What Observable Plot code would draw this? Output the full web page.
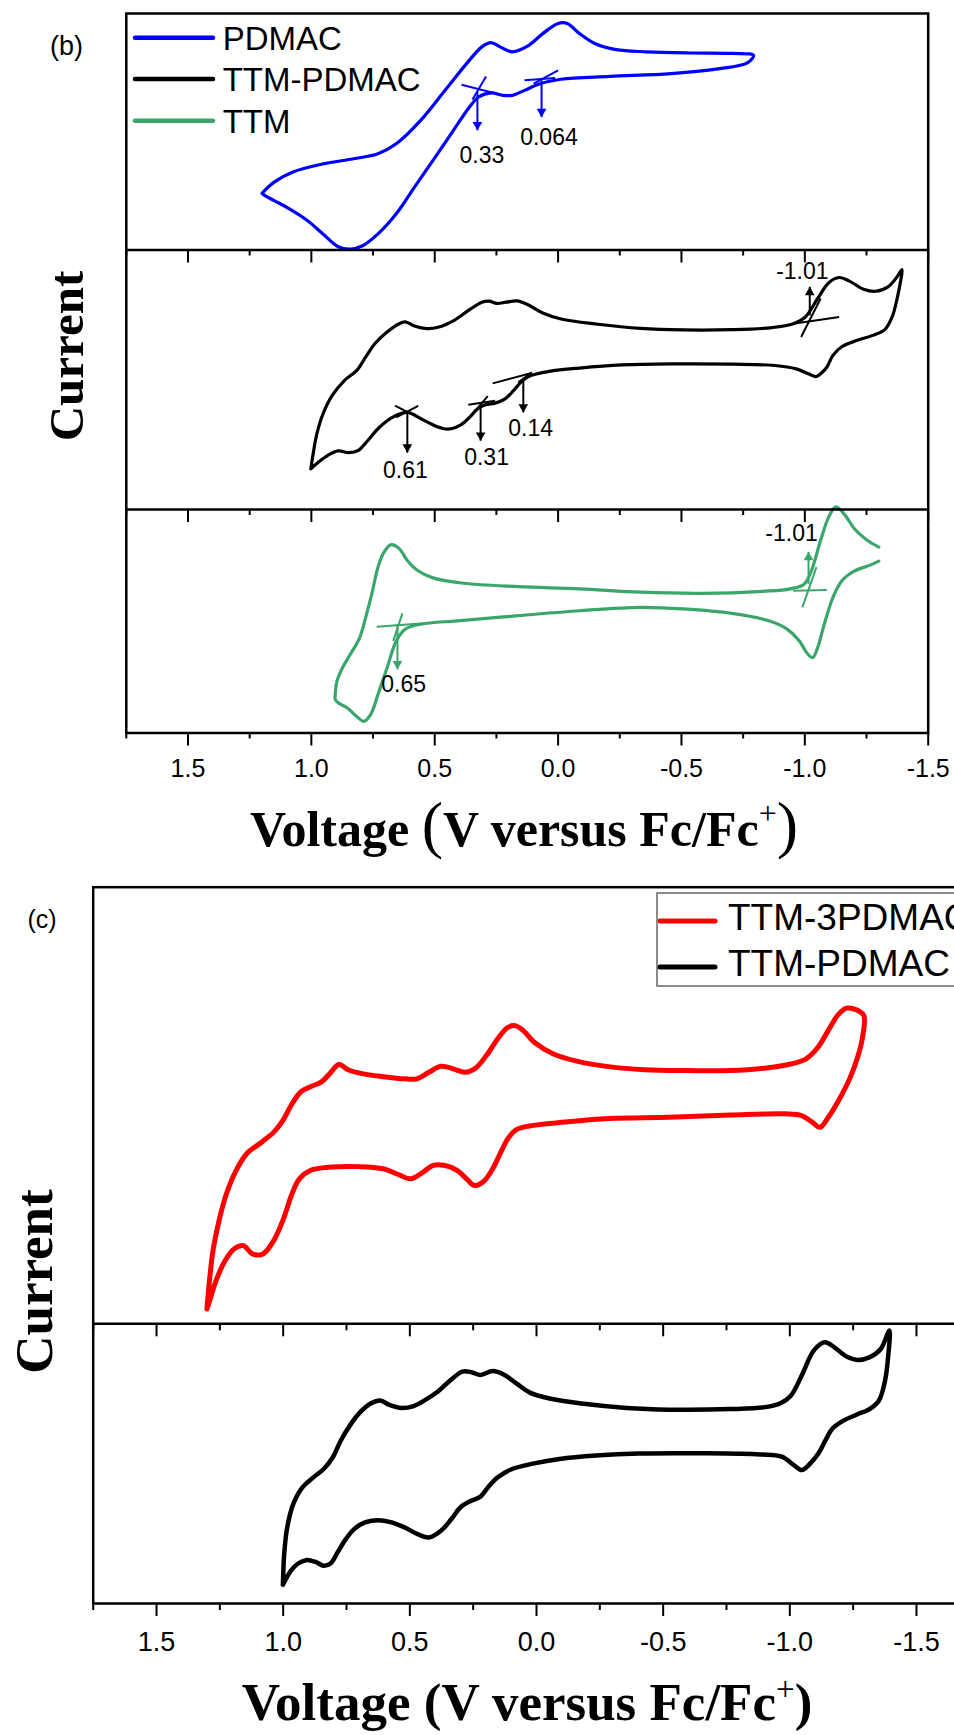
<!DOCTYPE html>
<html>
<head>
<meta charset="utf-8">
<script src="https://cdn.jsdelivr.net/npm/d3@7"></script>
<script src="https://cdn.jsdelivr.net/npm/@observablehq/plot@0.6"></script>
<style>
html, body { margin: 0; padding: 0; background: #fff; overflow: hidden; }
#root { position: relative; width: 954px; height: 1735px; overflow: hidden; background: #fff; }
.wrap { position: absolute; left: 0; }
</style>
</head>
<body>
<div id="root"></div>
<script>
// ---------- tick values ----------
const majorTicks = [1.5, 1.0, 0.5, 0.0, -0.5, -1.0, -1.5];
const minorTicks = [1.75, 1.25, 0.75, 0.25, -0.25, -0.75, -1.25];

// ---------- series names / colours ----------
const seriesB = ["PDMAC", "TTM-PDMAC", "TTM"];
const colorsB = ["#0000ff", "#000000", "#3aa66b"];
const seriesC = ["TTM-3PDMAC", "TTM-PDMAC"];
const colorsC = ["#ff0000", "#000000"];

// ---------- (b) PDMAC : [V vs Fc/Fc+, normalised current] ----------
const pdmacCV = [
[1.200,0.240],[1.151,0.287],[1.077,0.329],[0.953,0.364],[0.829,0.386],[0.730,0.407],[0.656,0.449],[0.557,0.548],
[0.458,0.675],[0.371,0.788],[0.309,0.859],[0.272,0.877],[0.235,0.859],[0.186,0.838],[0.124,0.862],[0.062,0.915],
[0.000,0.958],[-0.037,0.958],[-0.087,0.915],[-0.149,0.873],[-0.235,0.847],[-0.359,0.838],[-0.532,0.833],[-0.705,0.831],
[-0.792,0.823],[-0.767,0.791],[-0.656,0.767],[-0.458,0.746],[-0.210,0.734],[-0.012,0.722],[0.074,0.703],[0.136,0.675],
[0.186,0.654],[0.223,0.654],[0.272,0.664],[0.322,0.647],[0.359,0.605],[0.433,0.492],[0.507,0.379],[0.582,0.266],
[0.656,0.153],[0.730,0.068],[0.792,0.018],[0.842,0.004],[0.891,0.014],[0.953,0.068],[1.015,0.124],[1.089,0.174],
[1.151,0.209],[1.188,0.230],[1.200,0.240]];
const pdmacTangents = [[[0.391,0.699],[0.260,0.664]],[[0.347,0.636],[0.292,0.734]],[[0.136,0.718],[0.012,0.727]],[[0.099,0.703],[0.000,0.760]]];
const pdmacArrows = [[0.327,0.668,0.506],[0.067,0.718,0.562]];
const pdmacLabels = [[0.309,0.400,"0.33"],[0.037,0.477,"0.064"]];

// ---------- (b) TTM-PDMAC ----------
const ttmPdmacCV = [
[1.002,0.157],[0.993,0.213],[0.978,0.290],[0.953,0.368],[0.916,0.439],[0.866,0.497],[0.817,0.535],[0.780,0.587],
[0.743,0.639],[0.693,0.684],[0.644,0.716],[0.619,0.723],[0.582,0.707],[0.532,0.697],[0.483,0.703],[0.421,0.729],
[0.359,0.770],[0.309,0.799],[0.280,0.803],[0.248,0.794],[0.210,0.799],[0.166,0.804],[0.124,0.790],[0.062,0.757],
[-0.012,0.734],[-0.161,0.714],[-0.334,0.698],[-0.507,0.692],[-0.705,0.693],[-0.866,0.701],[-0.953,0.716],[-1.002,0.742],
[-1.052,0.813],[-1.097,0.874],[-1.139,0.894],[-1.181,0.880],[-1.238,0.849],[-1.287,0.841],[-1.337,0.858],[-1.374,0.897],
[-1.394,0.925],[-1.389,0.884],[-1.374,0.813],[-1.354,0.742],[-1.324,0.693],[-1.275,0.671],[-1.213,0.652],[-1.151,0.628],
[-1.114,0.594],[-1.089,0.548],[-1.064,0.523],[-1.045,0.512],[-1.015,0.523],[-0.965,0.542],[-0.879,0.555],[-0.705,0.560],
[-0.458,0.561],[-0.260,0.557],[-0.087,0.545],[0.037,0.532],[0.111,0.516],[0.144,0.497],[0.178,0.461],[0.215,0.426],
[0.255,0.410],[0.297,0.403],[0.327,0.387],[0.359,0.355],[0.396,0.325],[0.446,0.310],[0.495,0.321],[0.552,0.348],
[0.611,0.374],[0.668,0.357],[0.725,0.316],[0.772,0.265],[0.809,0.228],[0.849,0.219],[0.891,0.226],[0.933,0.209],
[0.973,0.181],[1.002,0.157]];
const ttmPdmacTangents = [
[[-0.985,0.665],[-1.064,0.813]],[[-0.953,0.716],[-1.139,0.742]],
[[0.265,0.486],[0.111,0.525]],[[0.161,0.490],[0.106,0.529]],
[[0.364,0.404],[0.255,0.419]],[[0.327,0.390],[0.285,0.437]],
[[0.661,0.400],[0.562,0.352]],[[0.656,0.355],[0.567,0.399]]];
const ttmPdmacArrows = [[-1.020,0.748,0.858],[0.141,0.497,0.374],[0.314,0.404,0.265],[0.611,0.377,0.219]];
const ttmPdmacLabels = [[-0.990,0.916,"-1.01"],[0.111,0.310,"0.14"],[0.290,0.200,"0.31"],[0.619,0.148,"0.61"]];

// ---------- (b) TTM ----------
const ttmCV = [
[-1.300,0.832],[-1.250,0.865],[-1.200,0.915],[-1.163,0.975],[-1.126,1.012],[-1.097,0.967],[-1.064,0.862],[-1.027,0.727],
[-0.998,0.667],[-0.941,0.645],[-0.829,0.634],[-0.582,0.625],[-0.334,0.630],[-0.087,0.645],[0.161,0.655],[0.384,0.670],
[0.507,0.694],[0.569,0.727],[0.611,0.772],[0.644,0.825],[0.676,0.843],[0.705,0.810],[0.730,0.742],[0.755,0.622],
[0.780,0.517],[0.804,0.427],[0.842,0.352],[0.874,0.292],[0.896,0.232],[0.903,0.175],[0.903,0.150],[0.891,0.135],
[0.854,0.112],[0.817,0.075],[0.787,0.052],[0.760,0.082],[0.730,0.172],[0.693,0.292],[0.656,0.412],[0.619,0.465],
[0.557,0.487],[0.408,0.502],[0.161,0.525],[-0.087,0.547],[-0.334,0.562],[-0.507,0.555],[-0.705,0.535],[-0.854,0.502],
[-0.928,0.465],[-0.978,0.412],[-1.007,0.360],[-1.032,0.337],[-1.052,0.382],[-1.077,0.480],[-1.114,0.607],[-1.151,0.682],
[-1.200,0.724],[-1.262,0.750],[-1.300,0.769]];
const ttmTangents = [[[-0.990,0.562],[-1.047,0.742]],[[-0.953,0.637],[-1.089,0.640]],[[0.735,0.475],[0.557,0.490]],[[0.668,0.412],[0.631,0.535]]];
const ttmArrows = [[-1.015,0.667,0.810],[0.651,0.487,0.285]];
const ttmLabels = [[-0.946,0.892,"-1.01"],[0.626,0.217,"0.65"]];

// ---------- (c) TTM-3PDMAC ----------
const ttm3PdmacCV = [
[1.301,0.034],[1.291,0.099],[1.277,0.168],[1.253,0.237],[1.224,0.298],[1.186,0.351],[1.145,0.389],[1.085,0.416],
[1.037,0.439],[1.001,0.466],[0.965,0.504],[0.929,0.532],[0.888,0.544],[0.849,0.554],[0.816,0.573],[0.780,0.594],
[0.744,0.582],[0.689,0.573],[0.605,0.566],[0.521,0.561],[0.473,0.561],[0.425,0.576],[0.377,0.590],[0.329,0.584],
[0.281,0.576],[0.240,0.586],[0.197,0.615],[0.153,0.653],[0.113,0.679],[0.084,0.683],[0.053,0.672],[0.005,0.643],
[-0.067,0.618],[-0.163,0.601],[-0.284,0.589],[-0.428,0.582],[-0.596,0.580],[-0.764,0.580],[-0.908,0.586],[-1.004,0.595],
[-1.064,0.607],[-1.112,0.634],[-1.152,0.672],[-1.191,0.708],[-1.224,0.723],[-1.263,0.719],[-1.292,0.706],[-1.287,0.656],
[-1.268,0.611],[-1.239,0.565],[-1.196,0.515],[-1.152,0.473],[-1.119,0.450],[-1.088,0.462],[-1.047,0.477],[-0.980,0.481],
[-0.764,0.478],[-0.524,0.473],[-0.284,0.470],[-0.115,0.462],[0.029,0.453],[0.081,0.444],[0.113,0.424],[0.144,0.389],
[0.177,0.351],[0.209,0.326],[0.245,0.317],[0.273,0.330],[0.312,0.351],[0.365,0.363],[0.408,0.363],[0.449,0.347],
[0.497,0.332],[0.545,0.342],[0.605,0.355],[0.701,0.360],[0.809,0.359],[0.893,0.351],[0.936,0.332],[0.965,0.298],
[1.001,0.237],[1.037,0.191],[1.080,0.160],[1.121,0.160],[1.157,0.179],[1.193,0.172],[1.229,0.145],[1.265,0.099],
[1.294,0.046],[1.301,0.034]];

// ---------- (c) TTM-PDMAC ----------
const ttmPdmacCV2 = [
[1.001,0.067],[0.996,0.177],[0.984,0.272],[0.960,0.356],[0.924,0.415],[0.881,0.451],[0.840,0.481],[0.804,0.523],
[0.773,0.582],[0.737,0.636],[0.696,0.684],[0.653,0.716],[0.617,0.726],[0.581,0.710],[0.533,0.699],[0.485,0.706],
[0.437,0.729],[0.389,0.758],[0.341,0.797],[0.293,0.829],[0.257,0.827],[0.221,0.817],[0.173,0.831],[0.130,0.819],
[0.081,0.788],[0.024,0.753],[-0.056,0.732],[-0.187,0.714],[-0.356,0.699],[-0.524,0.693],[-0.764,0.695],[-0.903,0.702],
[-0.963,0.716],[-1.004,0.743],[-1.047,0.815],[-1.095,0.905],[-1.138,0.934],[-1.176,0.916],[-1.224,0.883],[-1.268,0.871],
[-1.316,0.881],[-1.359,0.910],[-1.393,0.976],[-1.388,0.881],[-1.376,0.797],[-1.352,0.726],[-1.316,0.696],[-1.263,0.675],
[-1.208,0.652],[-1.167,0.624],[-1.140,0.582],[-1.112,0.535],[-1.076,0.496],[-1.047,0.477],[-1.016,0.495],[-0.968,0.525],
[-0.884,0.533],[-0.644,0.537],[-0.404,0.536],[-0.235,0.529],[-0.091,0.517],[0.009,0.501],[0.101,0.479],[0.153,0.451],
[0.192,0.415],[0.221,0.382],[0.264,0.365],[0.300,0.344],[0.336,0.302],[0.377,0.260],[0.425,0.236],[0.465,0.246],
[0.521,0.272],[0.576,0.291],[0.624,0.298],[0.677,0.290],[0.720,0.266],[0.753,0.230],[0.785,0.183],[0.813,0.143],
[0.840,0.135],[0.873,0.149],[0.910,0.155],[0.941,0.143],[0.970,0.117],[1.001,0.067]];

// ---------- layout (pixels) ----------
const LB = {top: 0, width: 954, mL: 125.8, mR: 26.3, mT: 13, mB: 50, spans: [236.5, 259.5, 223.5], tick: 13, pad: 13, font: 25};
const LC = {top: 860, width: 1000, mL: 92.7, mR: 20.7, mT: 26.7, mB: 60, spans: [436.6, 279.7], tick: 13, pad: 15, font: 27};

const root = document.getElementById("root");
const plotStyle = {fontFamily: "'Liberation Sans', Arial, sans-serif", fontSize: "24px", color: "black",
  background: "transparent", maxWidth: "none", overflow: "visible"};

function seriesMarks(data, tangents, arrows, labels, base, span, color, sw) {
  const Y = v => base + v * span;
  const marks = [Plot.line(data, {x: d => d[0], y: d => Y(d[1]), stroke: color, strokeWidth: sw, curve: "catmull-rom",
    strokeLinejoin: "round", strokeLinecap: "round"})];
  if (tangents) marks.push(Plot.link(tangents, {x1: d => d[0][0], y1: d => Y(d[0][1]), x2: d => d[1][0], y2: d => Y(d[1][1]),
    stroke: color, strokeWidth: 2}));
  if (arrows) {
    marks.push(Plot.link(arrows, {x1: d => d[0], x2: d => d[0], y1: d => Y(d[1]), y2: d => Y(d[2]), stroke: color, strokeWidth: 2}));
    marks.push(Plot.dot(arrows.filter(d => d[2] < d[1]), {x: d => d[0], y: d => Y(d[2]), symbol: "triangle", r: 3.6,
      fill: color, stroke: "none", rotate: 180, dy: -5.5}));
    marks.push(Plot.dot(arrows.filter(d => d[2] > d[1]), {x: d => d[0], y: d => Y(d[2]), symbol: "triangle", r: 3.6,
      fill: color, stroke: "none", rotate: 0, dy: 5.5}));
  }
  if (labels) marks.push(Plot.text(labels, {x: d => d[0], y: d => Y(d[1]), text: d => d[2], fill: "black", fontSize: 23}));
  return marks;
}

function boundaryTicks(b, major, minor) {
  return [
    Plot.ruleX(majorTicks, {x: d => d, y1: () => b, y2: () => b - major, strokeWidth: 2}),
    Plot.ruleX(minorTicks, {x: d => d, y1: () => b, y2: () => b - minor, strokeWidth: 2})
  ];
}

const tickLabelSet = new Set(majorTicks.map(d => d.toFixed(1)));
function finish(plot, L) {
  // enlarge the axis tick labels (Plot's axis text)
  d3.select(plot).selectAll("text").each(function () {
    const s = this.textContent.trim();
    if (tickLabelSet.has(s)) {
      d3.select(this).attr("font-size", L.font).style("font-size", L.font + "px")
        .style("font-family", "'Liberation Sans', Arial, sans-serif").attr("fill", "black");
      if (this.parentNode) d3.select(this.parentNode).attr("font-size", L.font);
    }
  });
  const w = document.createElement("div");
  w.className = "wrap"; w.style.top = L.top + "px"; w.style.width = L.width + "px";
  w.appendChild(plot); root.appendChild(w);
}

// ---------- panel (b) ----------
{
  const [sTop, sMid, sBot] = LB.spans;
  const total = sTop + sMid + sBot;
  const baseBot = 0, baseMid = sBot, baseTop = sBot + sMid;
  const plot = Plot.plot({
    width: LB.width, height: LB.mT + total + LB.mB,
    marginLeft: LB.mL, marginRight: LB.mR, marginTop: LB.mT, marginBottom: LB.mB,
    style: plotStyle,
    x: {domain: [1.75, -1.5]},
    y: {domain: [0, total], axis: null},
    marks: [
      ...seriesMarks(pdmacCV, pdmacTangents, pdmacArrows, pdmacLabels, baseTop, sTop, colorsB[0], 3.2),
      ...seriesMarks(ttmPdmacCV, ttmPdmacTangents, ttmPdmacArrows, ttmPdmacLabels, baseMid, sMid, colorsB[1], 3.2),
      ...seriesMarks(ttmCV, ttmTangents, ttmArrows, ttmLabels, baseBot, sBot, colorsB[2], 3.2),
      Plot.ruleY([baseMid, baseTop], {strokeWidth: 2.5}),
      ...boundaryTicks(baseTop, 13, 6),
      ...boundaryTicks(baseMid, 13, 6),
      Plot.axisX({ticks: majorTicks, tickSize: LB.tick, tickPadding: LB.pad, tickFormat: d => d.toFixed(1), strokeWidth: 2, label: null, fontSize: LB.font}),
      Plot.axisX({ticks: minorTicks, tickSize: 6, tickFormat: () => "", strokeWidth: 2, label: null}),
      Plot.frame({strokeWidth: 2.5})
    ]
  });
  finish(plot, LB);
}

// ---------- panel (c) ----------
{
  const [sTop, sBot] = LC.spans;
  const total = sTop + sBot;
  const plot = Plot.plot({
    width: LC.width, height: LC.mT + total + LC.mB,
    marginLeft: LC.mL, marginRight: LC.mR, marginTop: LC.mT, marginBottom: LC.mB,
    style: plotStyle,
    x: {domain: [1.75, -1.75]},
    y: {domain: [0, total], axis: null},
    marks: [
      ...seriesMarks(ttm3PdmacCV, null, null, null, sBot, sTop, colorsC[0], 5),
      ...seriesMarks(ttmPdmacCV2, null, null, null, 0, sBot, colorsC[1], 4.5),
      Plot.ruleY([sBot], {strokeWidth: 2.5}),
      ...boundaryTicks(sBot, 13, 7),
      Plot.axisX({ticks: majorTicks, tickSize: LC.tick, tickPadding: LC.pad, tickFormat: d => d.toFixed(1), strokeWidth: 2, label: null, fontSize: LC.font}),
      Plot.axisX({ticks: minorTicks, tickSize: 7, tickFormat: () => "", strokeWidth: 2, label: null}),
      Plot.frame({strokeWidth: 2.5})
    ]
  });
  finish(plot, LC);
}

// ---------- text overlay: labels, titles, legends ----------
const svg = d3.select(root).append("svg")
  .attr("width", 954).attr("height", 1735)
  .style("position", "absolute").style("left", 0).style("top", 0).style("pointer-events", "none");
const SANS = "'Liberation Sans', Arial, sans-serif";
const SERIF = "'Liberation Serif', 'Times New Roman', serif";

function txt(x, y, s, size, family, weight, anchor) {
  return svg.append("text").attr("x", x).attr("y", y).text(s)
    .attr("font-size", size).attr("font-family", family).attr("font-weight", weight || "normal")
    .attr("text-anchor", anchor || "start").attr("fill", "black");
}

// panel tags
txt(50, 54.5, "(b)", 27, SANS);
txt(27.5, 928, "(c)", 25, SANS);

// legend (b)
const legB = [37.7, 79, 120.7];
seriesB.forEach((s, i) => {
  svg.append("line").attr("x1", 135).attr("x2", 213).attr("y1", legB[i]).attr("y2", legB[i])
    .attr("stroke", colorsB[i]).attr("stroke-width", 4.5).attr("stroke-linecap", "round");
  txt(222.7, legB[i] + 12, s, 33, SANS);
});

// legend (c)
svg.append("rect").attr("x", 657).attr("y", 893).attr("width", 400).attr("height", 93)
  .attr("fill", "white").attr("stroke", "#666").attr("stroke-width", 1.5);
const legC = [921, 967];
seriesC.forEach((s, i) => {
  svg.append("line").attr("x1", 660).attr("x2", 715).attr("y1", legC[i]).attr("y2", legC[i])
    .attr("stroke", colorsC[i]).attr("stroke-width", 5).attr("stroke-linecap", "round");
  txt(728, legC[i] + 9, s, 37, SANS);
});

// y labels
txt(0, 0, "Current", 49, SERIF, "bold", "middle").attr("transform", "translate(82.6,356) rotate(-90)");
txt(0, 0, "Current", 53, SERIF, "bold", "middle").attr("transform", "translate(52,1281.5) rotate(-90)");

// x title (b)
{
  const t = svg.append("text").attr("x", 524).attr("y", 846).attr("text-anchor", "middle")
    .attr("font-family", SERIF).attr("fill", "black");
  t.append("tspan").attr("font-size", 50).attr("font-weight", "bold").text("Voltage ");
  t.append("tspan").attr("font-size", 64).text("(");
  t.append("tspan").attr("font-size", 50).attr("font-weight", "bold").text("V versus Fc/Fc");
  t.append("tspan").attr("font-size", 32).attr("dy", -22).text("+");
  t.append("tspan").attr("font-size", 64).attr("dy", 22).text(")");
}
// x title (c)
{
  const t = svg.append("text").attr("x", 527).attr("y", 1720).attr("text-anchor", "middle")
    .attr("font-family", SERIF).attr("fill", "black").attr("font-weight", "bold");
  t.append("tspan").attr("font-size", 53).text("Voltage (V versus Fc/Fc");
  t.append("tspan").attr("font-size", 33).attr("font-weight", "normal").attr("dy", -20).text("+");
  t.append("tspan").attr("font-size", 53).attr("dy", 20).text(")");
}
</script>
</body>
</html>
